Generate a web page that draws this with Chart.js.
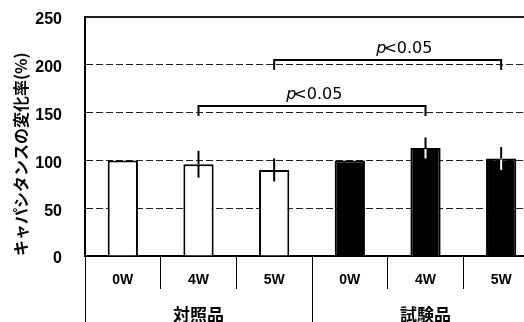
<!DOCTYPE html>
<html>
<head>
<meta charset="utf-8">
<script src="https://cdn.jsdelivr.net/npm/chart.js@4/dist/chart.umd.min.js"></script>
<style>
  html, body { margin: 0; padding: 0; overflow: hidden; background: #fff; }
  canvas { display: block; }
</style>
</head>
<body>
<canvas id="chart" width="540" height="322"></canvas>
<script>
// Measurement points and product groups
const weeks = ['0W', '4W', '5W', '0W', '4W', '5W'];
const groups = ['対照品', '試験品'];

// Capacitance change rate (%) and standard deviations
const controlValues = [100, 96, 90, null, null, null];
const testValues = [null, null, null, 100, 113, 102];
const errors = [0, 14, 12, 0, 11, 12];

// Y axis ticks
const yTicks = [0, 50, 100, 150, 200, 250];

// Significance brackets: from bar index, to bar index, bracket level (%), label centre (category units)
const sigFrom = [1, 2];
const sigTo = [4, 5];
const sigLevel = [157, 205];
const sigLabelAt = [2.53, 3.72];
const sigText = ['<0.05', '<0.05'];

const BOLD = "'Liberation Sans', Arial, sans-serif";
const CJK = "'Noto Sans CJK JP', 'Liberation Sans', sans-serif";

// Vertical SD lines; the part inside a filled bar is drawn in white
const errorBars = {
  id: 'errorBars',
  afterDatasetsDraw(chart) {
    const ctx = chart.ctx, y = chart.scales.y;
    chart.data.datasets.forEach((ds, di) => {
      const meta = chart.getDatasetMeta(di);
      ds.data.forEach((v, i) => {
        if (v == null || !errors[i]) return;
        const x = meta.data[i].x;
        const yTop = y.getPixelForValue(v + errors[i]);
        const yMid = y.getPixelForValue(v);
        const yBot = y.getPixelForValue(v - errors[i]);
        ctx.save();
        ctx.lineWidth = 2;
        ctx.strokeStyle = '#000';
        ctx.beginPath(); ctx.moveTo(x, yTop); ctx.lineTo(x, yMid); ctx.stroke();
        ctx.strokeStyle = ds.backgroundColor === '#000' ? '#fff' : '#000';
        ctx.beginPath(); ctx.moveTo(x, yMid + 1); ctx.lineTo(x, yBot); ctx.stroke();
        ctx.restore();
      });
    });
  }
};

// Significance brackets with "p<0.05" labels
const sigBrackets = {
  id: 'sigBrackets',
  afterDatasetsDraw(chart) {
    const ctx = chart.ctx, x = chart.scales.x, y = chart.scales.y;
    sigFrom.forEach((from, k) => {
      const x1 = x.getPixelForValue(from);
      const x2 = x.getPixelForValue(sigTo[k]);
      const yy = Math.round(y.getPixelForValue(sigLevel[k]));
      ctx.save();
      ctx.strokeStyle = '#000';
      ctx.lineWidth = 2;
      ctx.beginPath();
      ctx.moveTo(x1, yy + 10);
      ctx.lineTo(x1, yy);
      ctx.lineTo(x2, yy);
      ctx.lineTo(x2, yy + 10);
      ctx.stroke();

      const cx = x.getPixelForValue(sigLabelAt[k]);
      ctx.fillStyle = '#000';
      ctx.textBaseline = 'alphabetic';
      ctx.font = "italic 16px 'DejaVu Sans', sans-serif";
      const pw = ctx.measureText('p').width;
      ctx.font = "16px 'DejaVu Sans', sans-serif";
      const tw = ctx.measureText(sigText[k]).width;
      const start = cx - (pw - 3 + tw) / 2;
      ctx.font = "italic 16px 'DejaVu Sans', sans-serif";
      ctx.fillText('p', start, yy - 7);
      ctx.font = "16px 'DejaVu Sans', sans-serif";
      ctx.fillText(sigText[k], start + pw - 3, yy - 7);
      ctx.restore();
    });
  }
};

new Chart(document.getElementById('chart'), {
  type: 'bar',
  data: {
    labels: weeks,
    datasets: [
      {
        label: groups[0],
        data: controlValues,
        backgroundColor: '#fff',
        borderColor: '#000',
        borderWidth: 2,
        grouped: false,
        barPercentage: 0.4,
        categoryPercentage: 1.0
      },
      {
        label: groups[1],
        data: testValues,
        backgroundColor: '#000',
        borderColor: '#000',
        borderWidth: 2,
        grouped: false,
        barPercentage: 0.4,
        categoryPercentage: 1.0
      }
    ]
  },
  options: {
    responsive: false,
    animation: false,
    devicePixelRatio: 1,
    layout: { padding: { top: 17, left: 0, right: 1, bottom: 0 } },
    plugins: {
      legend: { display: false },
      tooltip: { enabled: false }
    },
    scales: {
      y: {
        min: 0,
        max: 250,
        afterBuildTicks(scale) { scale.ticks = yTicks.map(v => ({ value: v })); },
        afterFit(scale) {
          scale.width = 85;
          scale.paddingTop = 0;
          scale.paddingBottom = 0;
        },
        ticks: {
          color: '#000',
          padding: 23,
          labelOffset: 3,
          font: { family: BOLD, size: 16, weight: 'bold' }
        },
        grid: {
          drawTicks: false,
          color: ctx => (ctx.tick && ctx.tick.value === 0) ? 'rgba(0,0,0,0)' : '#222',
          lineWidth: ctx => (ctx.tick && ctx.tick.value === 250) ? 2 : 1
        },
        border: {
          display: true,
          color: '#000',
          width: 2,
          dash: ctx => (ctx.tick && ctx.tick.value === 250) ? [] : [7, 3]
        },
        title: {
          display: true,
          text: 'キャパシタンスの変化率(%)',
          color: '#000',
          align: 'start',
          padding: { top: 11, bottom: 0 },
          font: { family: CJK, size: 16, weight: 'bold' }
        }
      },
      x: {
        position: 'bottom',
        afterFit(scale) { scale.height = 33; },
        ticks: {
          color: '#000',
          padding: -17,
          maxRotation: 0,
          autoSkip: false,
          font: { family: BOLD, size: 14, weight: 'bold' }
        },
        grid: {
          offset: true,
          drawOnChartArea: false,
          drawTicks: true,
          tickLength: 33,
          tickColor: '#000',
          tickWidth: 1
        },
        border: { display: true, color: '#000', width: 2 }
      },
      group: {
        type: 'category',
        position: 'bottom',
        labels: groups,
        afterFit(scale) { scale.height = 33; },
        ticks: {
          color: '#000',
          padding: -18,
          maxRotation: 0,
          autoSkip: false,
          font: { family: CJK, size: 17, weight: 'bold' }
        },
        grid: {
          offset: true,
          drawOnChartArea: false,
          drawTicks: true,
          tickLength: 33,
          tickColor: '#000',
          tickWidth: 1
        },
        border: { display: false }
      }
    }
  },
  plugins: [errorBars, sigBrackets]
});
</script>
</body>
</html>
